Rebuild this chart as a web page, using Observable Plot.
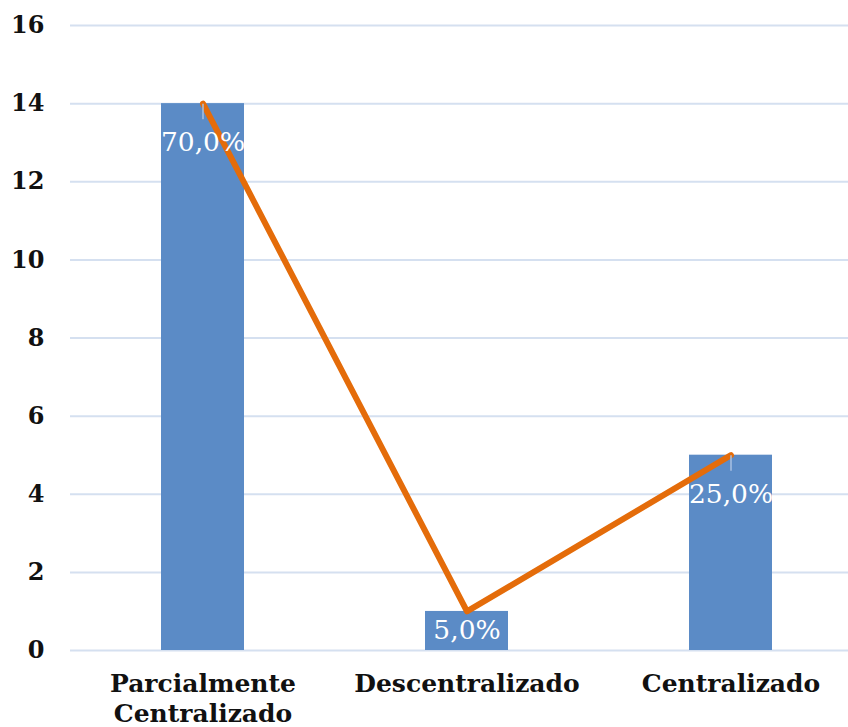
<!DOCTYPE html>
<html>
<head>
<meta charset="utf-8">
<script src="https://cdn.jsdelivr.net/npm/d3@7"></script>
<script src="https://cdn.jsdelivr.net/npm/@observablehq/plot@0.6"></script>
<style>
  html, body { margin: 0; padding: 0; background: #fff; }
  #chart svg { display: block; }
</style>
</head>
<body>
<div id="chart"></div>
<script>
const categories = ["Parcialmente Centralizado", "Descentralizado", "Centralizado"];
const counts = [14, 1, 5];
const percentLabels = ["70,0%", "5,0%", "25,0%"];
const yTicks = [0, 2, 4, 6, 8, 10, 12, 14, 16];

const data = categories.map((c, i) => ({category: c, value: counts[i], label: percentLabels[i]}));

const serif = "'DejaVu Serif', 'Liberation Serif', serif";

const chart = Plot.plot({
  width: 848,
  height: 727,
  marginLeft: 70,
  marginRight: 0,
  marginTop: 25,
  marginBottom: 77,
  style: {fontFamily: serif, fontSize: "24px", background: "#fff", overflow: "hidden"},
  x: {domain: categories, range: [70, 862], paddingInner: 0.686, paddingOuter: 0.343, label: null},
  y: {domain: [0, 16], label: null},
  marks: [
    Plot.ruleY(yTicks, {stroke: "#d5e0f0", strokeWidth: 2}),
    Plot.barY(data, {x: "category", y: "value", fill: "#5b8bc6"}),
    Plot.line(data, {x: "category", y: "value", stroke: "#e46c0a", strokeWidth: 6, strokeLinecap: "round", strokeLinejoin: "round"}),
    Plot.link(data.filter(d => d.value > 2), {x1: "category", x2: "category", y1: "value", y2: d => d.value - 0.4, stroke: "#a9c1e2", strokeWidth: 1.5}),
    Plot.text(data, {x: "category", y: d => d.value > 2 ? d.value - 1 : d.value / 2, text: "label", fill: "#ffffff", fontSize: 26.5, fontFamily: serif}),
    Plot.axisY(yTicks, {tickSize: 0, tickPadding: 26, fontSize: 24, fontWeight: "bold", fill: "#111", label: null}),
    Plot.axisX({tickSize: 0, tickPadding: 20, fontSize: 25, fontWeight: "bold", fill: "#111", lineHeight: 1.2, label: null, tickFormat: d => d.replace(" ", "\n")})
  ]
});
document.getElementById("chart").appendChild(chart);
</script>
</body>
</html>
